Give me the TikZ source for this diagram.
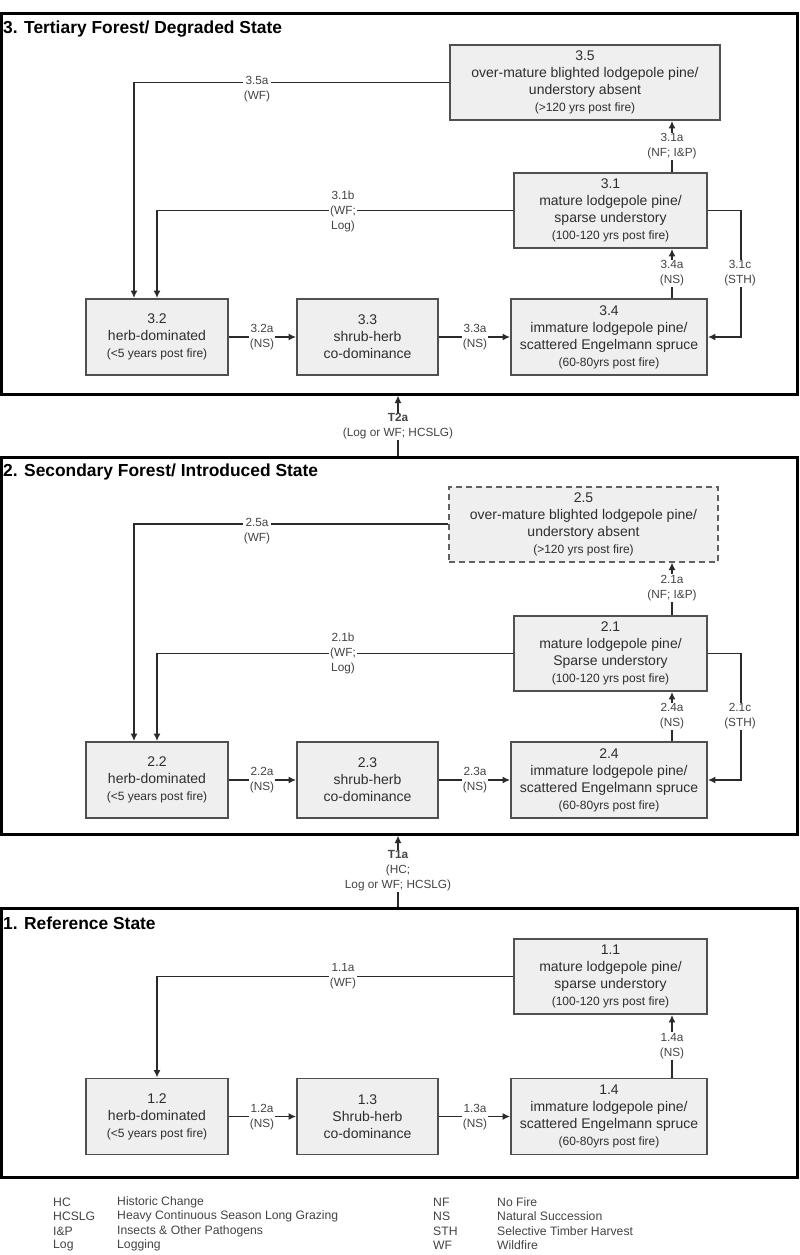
\documentclass[tikz,border=0pt]{standalone}
\usepackage{fontspec}
\setmainfont{Liberation Sans}
\usetikzlibrary{arrows.meta,calc}
\definecolor{boxfill}{HTML}{EFEFEF}
\definecolor{boxline}{HTML}{505050}
\definecolor{lin}{HTML}{2A2A2A}
\definecolor{txt}{HTML}{2E2E2E}
\definecolor{txttwo}{HTML}{444444}
\newcommand{\sm}[1]{{\fontsize{12}{17}\selectfont #1}}
\begin{document}
\begin{tikzpicture}[x=1pt,y=-1pt,
  frame/.style={draw=black,line width=3pt,inner sep=0pt,minimum width=796pt},
  sbox/.style={draw=boxline,fill=boxfill,line width=1.8pt,inner sep=2pt,align=center,
    font=\fontsize{14}{17}\selectfont,text=txt},
  dbox/.style={sbox,dash pattern=on 6pt off 4pt,line width=2pt,draw=boxline!90},
  conn/.style={draw=lin,line width=1.6pt},
  arr/.style={conn,-{Latex[length=7.5pt,width=7pt]}},
  lab/.style={fill=white,inner sep=1pt,align=center,font=\fontsize{11.8}{15}\selectfont,text=txttwo},
  ttl/.style={anchor=west,font=\fontsize{17.4}{20}\selectfont\bfseries,inner sep=0pt},
  leg/.style={anchor=west,font=\fontsize{12.2}{14}\selectfont,text=txttwo,inner sep=0pt}
]
\fill[white] (0,0) rectangle (800,1255);
\useasboundingbox (0,0) rectangle (800,1255);

% frames
\node[frame,minimum height=380pt] (f3) at (399.5,204) {};
\node[frame,minimum height=377pt] (f2) at (399.5,645.5) {};
\node[frame,minimum height=269pt] (f1) at (399.5,1042.5) {};
\coordinate (tx) at (398,0);

% titles
\node[ttl] (t3) at (3,29) {3. Tertiary Forest/ Degraded State};
\node[ttl] (t2) at (3,472) {2. Secondary Forest/ Introduced State};
\node[ttl] (t1) at (3,923) {1. Reference State};

% section 3 boxes
\node[sbox,minimum width=270pt,minimum height=75pt] (s35) at (585,82.5)
  {3.5\\over-mature blighted lodgepole pine/\\understory absent\\\sm{(>120 yrs post fire)}};
\node[sbox,minimum width=193pt,minimum height=75pt] (s31) at (610.5,210.5)
  {3.1\\mature lodgepole pine/\\sparse understory\\\sm{(100-120 yrs post fire)}};
\node[sbox,minimum width=142pt,minimum height=76pt] (s32) at (157,337)
  {3.2\\herb-dominated\\\sm{(<5 years post fire)}};
\node[sbox,minimum width=141pt,minimum height=76pt] (s33) at (367.5,337)
  {3.3\\shrub-herb\\co-dominance};
\node[sbox,minimum width=196pt,minimum height=76pt] (s34) at (609,337)
  {3.4\\immature lodgepole pine/\\scattered Engelmann spruce\\\sm{(60-80yrs post fire)}};

% section 2 boxes
\node[dbox,minimum width=269pt,minimum height=75pt] (s25) at (583.5,524)
  {2.5\\over-mature blighted lodgepole pine/\\understory absent\\\sm{(>120 yrs post fire)}};
\node[sbox,minimum width=193pt,minimum height=75pt] (s21) at (610.5,653.5)
  {2.1\\mature lodgepole pine/\\Sparse understory\\\sm{(100-120 yrs post fire)}};
\node[sbox,minimum width=142pt,minimum height=76pt] (s22) at (157,780)
  {2.2\\herb-dominated\\\sm{(<5 years post fire)}};
\node[sbox,minimum width=141pt,minimum height=76pt] (s23) at (367.5,780)
  {2.3\\shrub-herb\\co-dominance};
\node[sbox,minimum width=196pt,minimum height=76pt] (s24) at (609,780)
  {2.4\\immature lodgepole pine/\\scattered Engelmann spruce\\\sm{(60-80yrs post fire)}};

% section 1 boxes
\node[sbox,minimum width=193pt,minimum height=75pt] (s11) at (610.5,976.5)
  {1.1\\mature lodgepole pine/\\sparse understory\\\sm{(100-120 yrs post fire)}};
\node[sbox,minimum width=142pt,minimum height=76pt] (s12) at (157,1116.5)
  {1.2\\herb-dominated\\\sm{(<5 years post fire)}};
\node[sbox,minimum width=141pt,minimum height=76pt] (s13) at (367.5,1116.5)
  {1.3\\Shrub-herb\\co-dominance};
\node[sbox,minimum width=196pt,minimum height=76pt] (s14) at (609,1116.5)
  {1.4\\immature lodgepole pine/\\scattered Engelmann spruce\\\sm{(60-80yrs post fire)}};

% section 3 connectors
\coordinate (v3) at ($(s31.north)+(61.5,0)$);
\draw[arr] (s35.west) -| ($(s32.north)+(-23,0)$);
\draw[arr] (s31.west) -| (s32.north);
\draw[arr] (v3) -- (v3 |- s35.south);
\draw[arr] (v3 |- s34.north) -- (v3 |- s31.south);
\draw[arr] (s31.east) -- ++(33,0) |- (s34.east);
\draw[arr] (s32) -- (s33);
\draw[arr] (s33) -- (s34);

% section 2 connectors
\coordinate (v2) at ($(s21.north)+(61.5,0)$);
\draw[arr] (s25.west) -| ($(s22.north)+(-23,0)$);
\draw[arr] (s21.west) -| (s22.north);
\draw[arr] (v2) -- (v2 |- s25.south);
\draw[arr] (v2 |- s24.north) -- (v2 |- s21.south);
\draw[arr] (s21.east) -- ++(33,0) |- (s24.east);
\draw[arr] (s22) -- (s23);
\draw[arr] (s23) -- (s24);

% section 1 connectors
\coordinate (v1) at ($(s11.north)+(61.5,0)$);
\draw[arr] (s11.west) -| (s12.north);
\draw[arr] (v1 |- s14.north) -- (v1 |- s11.south);
\draw[arr] (s12) -- (s13);
\draw[arr] (s13) -- (s14);

% transitions
\draw[arr] (tx |- f2.north) -- (tx |- f3.south);
\draw[arr] (tx |- f1.north) -- (tx |- f2.south);

% labels section 3
\node[lab] (l35a) at (257,89) {3.5a\\(WF)};
\node[lab] (l31b) at (343,211) {3.1b\\(WF;\\Log)};
\node[lab] (l31a) at (672,146.5) {3.1a\\(NF; I\&P)};
\node[lab] (l34a) at (672,273.5) {3.4a\\(NS)};
\node[lab] (l31c) at (740,273.5) {3.1c\\(STH)};
\node[lab] (l32a) at (262,337.5) {3.2a\\(NS)};
\node[lab] (l33a) at (475,337.5) {3.3a\\(NS)};
\node[lab] (lt2) at (398,426.5) {\textbf{T2a}\\(Log or WF; HCSLG)};

% labels section 2
\node[lab] (l25a) at (257,531) {2.5a\\(WF)};
\node[lab] (l21b) at (343,653.5) {2.1b\\(WF;\\Log)};
\node[lab] (l21a) at (672,588) {2.1a\\(NF; I\&P)};
\node[lab] (l24a) at (672,716.5) {2.4a\\(NS)};
\node[lab] (l21c) at (740,716.5) {2.1c\\(STH)};
\node[lab] (l22a) at (262,780.5) {2.2a\\(NS)};
\node[lab] (l23a) at (475,780.5) {2.3a\\(NS)};
\node[lab] (lt1) at (398,871) {\textbf{T1a}\\(HC;\\Log or WF; HCSLG)};

% labels section 1
\node[lab] (l11a) at (343,976) {1.1a\\(WF)};
\node[lab] (l14a) at (672,1046) {1.4a\\(NS)};
\node[lab] (l12a) at (262,1117) {1.2a\\(NS)};
\node[lab] (l13a) at (475,1117) {1.3a\\(NS)};

% legend
\node[leg] (g1a) at (53,1202) {HC};
\node[leg] (g1b) at (117,1202) {Historic Change};
\node[leg] (g2a) at (53,1216.5) {HCSLG};
\node[leg] (g2b) at (117,1216.5) {Heavy Continuous Season Long Grazing};
\node[leg] (g3a) at (53,1231) {I\&P};
\node[leg] (g3b) at (117,1231) {Insects \& Other Pathogens};
\node[leg] (g4a) at (53,1245.5) {Log};
\node[leg] (g4b) at (117,1245.5) {Logging};
\node[leg] (g5a) at (433,1202) {NF};
\node[leg] (g5b) at (497,1202) {No Fire};
\node[leg] (g6a) at (433,1216.5) {NS};
\node[leg] (g6b) at (497,1216.5) {Natural Succession};
\node[leg] (g7a) at (433,1231) {STH};
\node[leg] (g7b) at (497,1231) {Selective Timber Harvest};
\node[leg] (g8a) at (433,1245.5) {WF};
\node[leg] (g8b) at (497,1245.5) {Wildfire};
\end{tikzpicture}
\end{document}
